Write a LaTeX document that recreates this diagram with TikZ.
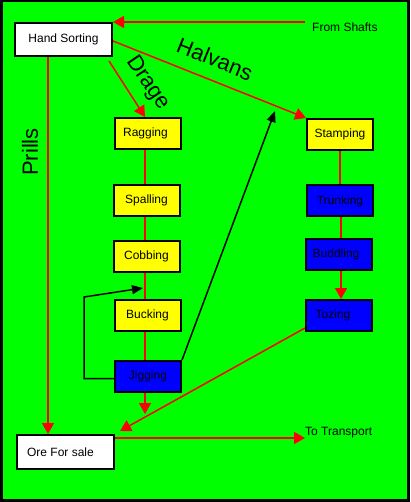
\documentclass[tikz,border=0pt]{standalone}
\usepackage{fontspec}
\setmainfont{Liberation Sans}
\usetikzlibrary{arrows.meta}
\definecolor{G}{RGB}{0,255,0}
\definecolor{Y}{RGB}{255,255,0}
\definecolor{B}{RGB}{0,0,255}
\definecolor{R}{RGB}{255,0,0}
\tikzset{
  stage/.style={draw=black, line width=2pt, minimum width=66pt, minimum height=31pt, inner sep=0pt, font=\fontsize{12}{14}\selectfont},
  wide/.style={stage, fill=white, minimum width=97pt, minimum height=33pt},
  dry/.style={stage, fill=Y},
  wet/.style={stage, fill=B},
  flow/.style={draw=R, line width=1.5pt},
  flowto/.style={flow, -{Triangle[length=11pt,width=12pt]}},
  back/.style={draw=black, line width=1.5pt, -{Triangle[length=11pt,width=9pt]}},
  route/.style={font=\fontsize{22}{24}\selectfont, inner sep=0pt},
  outside/.style={font=\fontsize{12}{14}\selectfont, inner sep=0pt}
}
\newcommand{\drawflow}{\draw[flow]}
\newcommand{\drawflowto}{\draw[flowto]}
\begin{document}
\begin{tikzpicture}[x=1pt,y=-1pt]
\useasboundingbox (0,0) rectangle (410,502);
\fill[black] (0,0) rectangle (410,502);
\fill[G] (2.5,2.5) rectangle (407,499);
% left column
\node[wide] (hand) at (63.5,39.5) {Hand Sorting};
\node[dry] (ragging) at (148,133.5) {\hspace*{-5pt}Ragging};
\node[dry] (spalling) at (146.5,200.5) {Spalling};
\node[dry] (cobbing) at (146.5,256.5) {Cobbing};
\node[dry] (bucking) at (147.5,315.5) {Bucking};
\node[wet] (jigging) at (148,376.5) {Jigging};
\node[wide, minimum height=34pt] (ore) at (65.5,452) {\hspace*{-10pt}Ore For sale};
% right column
\node[dry] (stamping) at (340,134.5) {Stamping};
\node[wet] (trunking) at (340,201) {Trunking};
\node[wet] (buddling) at (339,254) {\hspace*{-6pt}Buddling};
\node[wet] (tozing) at (339,315.5) {\hspace*{-12pt}Tozing};
% texts
\node[outside, anchor=west] (shafts) at (312,27) {From Shafts};
\node[outside, anchor=west] (transport) at (305,433) {To Transport};
\node[route, rotate=90] (prills) at (30,152) {Prills};
\node[route, rotate=-56] (drage) at (148,83) {Drage};
\node[route, rotate=-22] (halvans) at (215,59) {Halvans};
\coordinate (prillsline) at (48,0);
\coordinate (jigout) at (145,414);
\coordinate (jigup) at (275,111);
\coordinate (loopcorner) at (84,297);
\coordinate (loopend) at (143,288);
% red flows
\drawflowto ([xshift=-7pt,yshift=5pt]shafts.west) -- (hand.north east);
\drawflowto (hand.south -| prillsline) -- (ore.north -| prillsline);
\drawflowto ([xshift=-4pt,yshift=-4pt]hand.south east) -- ([xshift=-3pt]ragging.north);
\drawflowto ([yshift=-1.5pt]hand.east) -- (stamping.north west);
\drawflow (ragging.south -| jigout) -- (spalling.north -| jigout);
\drawflow (spalling.south -| jigout) -- (cobbing.north -| jigout);
\drawflow (cobbing.south -| jigout) -- (bucking.north -| jigout);
\drawflow (bucking.south -| jigout) -- (jigging.north -| jigout);
\drawflowto (jigging.south -| jigout) -- (jigout);
\drawflow (stamping) -- (trunking);
\drawflow ([xshift=1pt]trunking.south) -- ([xshift=2pt]buddling.north);
\drawflowto ([xshift=2pt]buddling.south) -- ([xshift=2pt]tozing.north);
\drawflowto ([yshift=4pt]tozing.south west) -- ([xshift=5pt,yshift=3pt]ore.north east);
\drawflowto ([yshift=-4pt]ore.north east) -- ([yshift=-4pt]ore.north east -| transport.west);
% black returns
\draw[back] (jigging.north east) -- (jigup);
\draw[back] ([yshift=-2pt]jigging.west) -| (loopcorner) -- (loopend);
\end{tikzpicture}
\end{document}
